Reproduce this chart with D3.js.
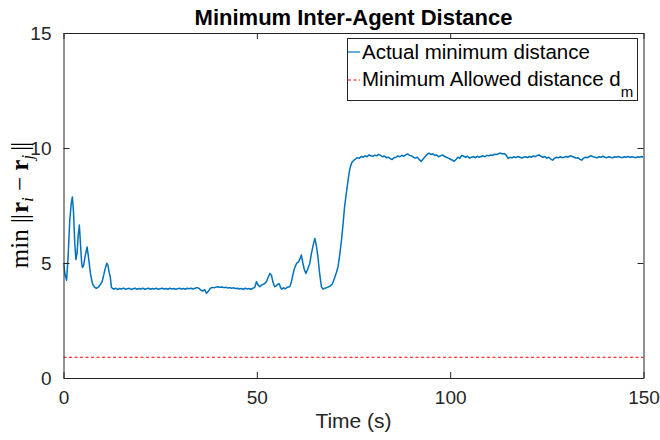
<!DOCTYPE html>
<html><head><meta charset="utf-8">
<script src="https://cdn.jsdelivr.net/npm/d3@7"></script>
<style>body{margin:0;background:#fff}svg{display:block}</style>
</head><body><div id="chart"></div>
<script>
// ---- data ----
const xTicks = [0, 50, 100, 150];
const yTicks = [0, 5, 10, 15];
const minAllowed = 0.9;

// transient start (irregular sampling)
const tStart = [0,0.4,0.8,1.2,1.6,2.0,2.3,2.6,2.9,3.2,3.5,3.8,4.1,4.4,4.7,4.9,5.2,5.6,6.1,6.5,7.0,7.5,8.0,8.5,9.0,9.5,10.0,10.3,10.7,11.2,11.5,11.8,12.1,12.4,12.8];
const dStart = [5.0,4.5,4.25,5.3,6.8,7.6,7.87,7.2,5.9,5.15,5.4,6.2,6.65,5.8,5.0,4.8,4.9,5.3,5.7,5.2,4.5,4.1,3.95,3.9,3.95,4.05,4.2,4.4,4.7,4.99,4.9,4.6,4.4,3.94,3.88];

// flat segment, sampled every 0.5 s from t = 13
const flatT0 = 13, flatStep = 0.5;
const dFlat = [3.86,3.9,3.85,3.89,3.87,3.91,3.86,3.88,3.9,3.85,
  3.88,3.9,3.86,3.89,3.87,3.9,3.86,3.88,3.9,3.86,
  3.89,3.87,3.9,3.86,3.88,3.9,3.87,3.89,3.86,3.9,
  3.87,3.89,3.86,3.88,3.9,3.87,3.89,3.86,3.9,3.88,
  3.9,3.87,3.9,3.93,3.9,3.82,3.78,3.84,3.68,3.78,
  3.9,3.94,3.92,3.96,3.97,3.94,3.96,3.93,3.95,3.91,
  3.93,3.9,3.92,3.89,3.9,3.87,3.89,3.86,3.9,3.87,
  3.89,3.86,3.9];

// bumps and rise (irregular sampling)
const tRise = [49.5,49.9,50.3,50.8,51.3,52.0,52.5,53.0,53.4,53.8,54.2,54.6,55.0,55.4,55.8,56.1,56.4,56.9,57.4,57.9,58.5,58.9,59.2,59.7,60.3,60.8,61.2,61.5,61.9,62.3,62.7,63.2,63.7,64.1,64.6,65.0,65.4,65.8,66.2,66.7,67.1,67.6,68.2,68.9,69.5,70.1,70.6,71.0,71.4,71.9,72.3,72.7,73.2,73.6,73.9,74.2,74.6];
const dRise = [3.95,4.19,4.05,3.97,4.05,4.1,4.2,4.4,4.55,4.45,4.15,3.97,4.0,4.08,4.1,3.95,3.86,3.92,3.88,3.95,3.97,4.15,4.4,4.75,4.99,5.05,5.2,5.35,5.0,4.7,4.55,4.75,4.99,5.4,5.8,6.07,5.75,5.27,4.6,3.97,3.87,3.9,3.94,3.99,4.08,4.35,4.6,4.84,5.3,6.0,6.7,7.45,8.1,8.6,8.95,9.19,9.38];

// plateau, sampled every 0.5 s from t = 75
const plateauT0 = 75, plateauStep = 0.5;
const dPlateau = [9.45,9.52,9.58,9.55,9.63,9.6,9.66,9.62,9.7,9.66,
  9.64,9.69,9.66,9.72,9.68,9.62,9.65,9.58,9.6,9.54,
  9.5,9.58,9.6,9.66,9.62,9.68,9.64,9.7,9.74,9.68,
  9.66,9.6,9.56,9.6,9.5,9.42,9.52,9.62,9.72,9.78,
  9.72,9.75,9.68,9.7,9.62,9.66,9.7,9.64,9.6,9.56,
  9.52,9.48,9.42,9.5,9.6,9.55,9.68,9.64,9.6,9.64,
  9.56,9.6,9.62,9.58,9.64,9.6,9.63,9.66,9.62,9.68,
  9.66,9.7,9.68,9.73,9.72,9.75,9.78,9.74,9.76,9.68,
  9.55,9.6,9.57,9.62,9.58,9.63,9.6,9.56,9.6,9.62,
  9.58,9.63,9.6,9.66,9.62,9.68,9.7,9.64,9.6,9.63,
  9.56,9.6,9.52,9.47,9.56,9.6,9.57,9.62,9.58,9.6,
  9.63,9.6,9.66,9.64,9.6,9.56,9.58,9.52,9.47,9.56,
  9.6,9.58,9.63,9.66,9.62,9.6,9.57,9.62,9.6,9.64,
  9.6,9.58,9.62,9.6,9.57,9.62,9.6,9.63,9.6,9.58,
  9.62,9.6,9.63,9.59,9.62,9.6,9.58,9.62,9.6,9.63,
  9.6];

const legendLabels = ["Actual minimum distance", "Minimum Allowed distance d"];

// ---- assemble series ----
const series = [];
tStart.forEach((t,i)=>series.push([t,dStart[i]]));
dFlat.forEach((v,i)=>series.push([flatT0+i*flatStep, v]));
tRise.forEach((t,i)=>series.push([t,dRise[i]]));
dPlateau.forEach((v,i)=>series.push([plateauT0+i*plateauStep, v]));
const data = series.filter(d=>d[0]<=150);

// ---- layout ----
const W=660,H=440;
const m={left:63.5,right:16.5,top:33,bottom:62};
const svg=d3.select("#chart").append("svg").attr("width",W).attr("height",H);
const x=d3.scaleLinear().domain([0,150]).range([m.left,W-m.right]);
const y=d3.scaleLinear().domain([0,15]).range([H-m.bottom,m.top]);
const axisCol="#262626", font="'Liberation Sans', Arial, Helvetica, sans-serif";

svg.append("defs").append("clipPath").attr("id","clip").append("rect")
  .attr("x",x(0)).attr("y",y(15)).attr("width",x(150)-x(0)).attr("height",y(0)-y(15));

const g=svg.append("g");
g.append("line").attr("x1",x(0)).attr("x2",x(150)).attr("y1",y(minAllowed)).attr("y2",y(minAllowed))
  .attr("stroke","#ff0000").attr("stroke-width",1.1).attr("stroke-dasharray","3,2.5");
g.append("path").datum(data).attr("clip-path","url(#clip)")
  .attr("fill","none").attr("stroke","#0072BD").attr("stroke-width",1.5).attr("stroke-linejoin","round")
  .attr("d",d3.line().x(d=>x(d[0])).y(d=>y(d[1])));

// axes (box with inward ticks)
const tl=6;
const ax=(sel,axis)=>{sel.call(axis);sel.select(".domain").attr("stroke",axisCol);
  sel.selectAll(".tick line").attr("stroke",axisCol);
  sel.selectAll(".tick text").attr("fill","#262626").style("font-family",font).style("font-size","19px");};
svg.append("g").attr("transform",`translate(0,${y(0)})`)
  .call(s=>ax(s,d3.axisBottom(x).tickValues(xTicks).tickSize(-tl).tickSizeOuter(0).tickPadding(13).tickFormat(d3.format("d"))));
svg.append("g").attr("transform",`translate(0,${y(15)})`)
  .call(s=>ax(s,d3.axisTop(x).tickValues(xTicks).tickSize(-tl).tickSizeOuter(0).tickFormat("")));
svg.append("g").attr("transform",`translate(${x(0)},0)`)
  .call(s=>ax(s,d3.axisLeft(y).tickValues(yTicks).tickSize(-tl).tickSizeOuter(0).tickPadding(12).tickFormat(d3.format("d"))));
svg.append("g").attr("transform",`translate(${x(150)},0)`)
  .call(s=>ax(s,d3.axisRight(y).tickValues(yTicks).tickSize(-tl).tickSizeOuter(0).tickFormat("")));

// title
svg.append("text").attr("x",(x(0)+x(150))/2).attr("y",25).attr("text-anchor","middle")
  .style("font-family",font).style("font-weight","bold").style("font-size","22px").attr("fill","#000")
  .text("Minimum Inter-Agent Distance");
// x label
svg.append("text").attr("x",(x(0)+x(150))/2).attr("y",428).attr("text-anchor","middle")
  .style("font-family",font).style("font-size","21px").attr("fill","#262626").text("Time (s)");
// y label (math)
const yl=svg.append("text").attr("transform",`translate(28,${(y(0)+y(15))/2}) rotate(-90)`)
  .attr("text-anchor","middle").style("font-family","'Liberation Serif','Times New Roman',serif")
  .style("font-size","25px").attr("fill","#000");
yl.append("tspan").text("min ");
yl.append("tspan").style("letter-spacing","-1px").text("||");
yl.append("tspan").attr("dx",2).style("font-weight","bold").text("r");
yl.append("tspan").attr("dy",5).style("font-size","17px").style("font-style","italic").text("i");
yl.append("tspan").attr("dy",-5).text(" \u2212 ");
yl.append("tspan").style("font-weight","bold").text("r");
yl.append("tspan").attr("dy",5).style("font-size","17px").style("font-style","italic").text("j");
yl.append("tspan").attr("dy",-5).attr("dx",4).style("letter-spacing","-1px").text("||");

// legend
const lg=svg.append("g");
lg.append("rect").attr("x",347.5).attr("y",38.5).attr("width",290).attr("height",62)
  .attr("fill","#fff").attr("stroke",axisCol).attr("stroke-width",1);
lg.append("line").attr("x1",348).attr("x2",360).attr("y1",52).attr("y2",52).attr("stroke","#0072BD").attr("stroke-width",1.2);
lg.append("line").attr("x1",348).attr("x2",360).attr("y1",80).attr("y2",80).attr("stroke","#ff0000").attr("stroke-width",1).attr("stroke-dasharray","3,2.5");
lg.append("text").attr("x",362).attr("y",59).style("font-family",font).style("font-size","20.5px").attr("fill","#000").text(legendLabels[0]);
const t2=lg.append("text").attr("x",362).attr("y",86).style("font-family",font).style("font-size","20.5px").attr("fill","#000");
t2.append("tspan").text(legendLabels[1]);
t2.append("tspan").attr("dy",11).style("font-size","15px").text("m");
</script></body></html>
